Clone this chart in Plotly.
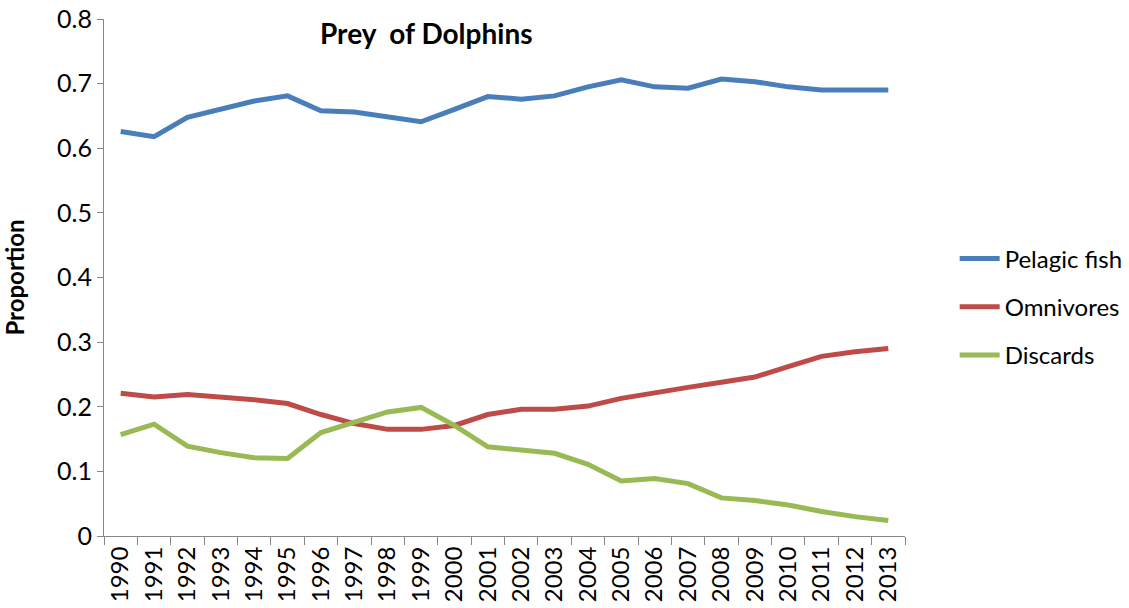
import plotly.graph_objects as go

years = [str(y) for y in range(1990, 2014)]

pelagic_fish = [0.626, 0.618, 0.648, 0.661, 0.673, 0.681, 0.658, 0.656, 0.649, 0.641,
                0.660, 0.680, 0.676, 0.681, 0.695, 0.706, 0.695, 0.693, 0.707, 0.703,
                0.695, 0.690, 0.690, 0.690]
omnivores = [0.221, 0.215, 0.219, 0.215, 0.211, 0.205, 0.188, 0.174, 0.165, 0.165,
             0.171, 0.188, 0.196, 0.196, 0.201, 0.213, 0.222, 0.230, 0.238, 0.246,
             0.262, 0.278, 0.285, 0.290]
discards = [0.157, 0.173, 0.139, 0.129, 0.121, 0.120, 0.160, 0.177, 0.192, 0.199,
            0.171, 0.138, 0.133, 0.128, 0.111, 0.085, 0.089, 0.081, 0.059, 0.055,
            0.048, 0.038, 0.030, 0.024]

y_ticks = [0, 0.1, 0.2, 0.3, 0.4, 0.5, 0.6, 0.7, 0.8]
y_tick_text = ["0", "0.1", "0.2", "0.3", "0.4", "0.5", "0.6", "0.7", "0.8"]

series = [
    ("Pelagic fish", pelagic_fish, "#4a7ebb"),
    ("Omnivores", omnivores, "#be4b48"),
    ("Discards", discards, "#98b954"),
]

font_family = "Lato, 'Open Sans', sans-serif"

fig = go.Figure()
for name, values, color in series:
    fig.add_trace(go.Scatter(
        x=years, y=values, name=name, mode="lines", legendgroup=name,
        line=dict(color=color, width=5),
    ))

fig.update_layout(
    width=1129, height=608,
    margin=dict(l=104, r=224, t=19, b=72, autoexpand=False),
    paper_bgcolor="white", plot_bgcolor="white",
    font=dict(family=font_family, color="black"),
    showlegend=True,
    legend=dict(
        x=1.062, y=0.443, xanchor="left", yanchor="middle",
        font=dict(size=24, family=font_family),
        itemwidth=40, tracegroupgap=14, traceorder="grouped",
        bgcolor="rgba(0,0,0,0)",
    ),
    annotations=[dict(
        text="<b>Prey&nbsp;&nbsp;of Dolphins</b>", x=0.402, y=1.0, xref="paper", yref="paper",
        xanchor="center", yanchor="top", yshift=5, showarrow=False,
        font=dict(size=28, family=font_family),
    )],
)

fig.update_xaxes(
    type="category", tickson="boundaries", ticks="outside", ticklen=8,
    tickcolor="#868686", showline=True, linecolor="#868686", linewidth=1,
    showgrid=False, tickangle=-90, tickfont=dict(size=24, family=font_family),
    range=[-0.5, len(years) - 0.5], automargin=False,
)
fig.update_yaxes(
    range=[0, 0.8], tickvals=y_ticks, ticktext=y_tick_text,
    ticks="outside", ticklen=6, tickcolor="#868686",
    showline=True, linecolor="#868686", linewidth=1, showgrid=False,
    zeroline=False, tickfont=dict(size=25, family=font_family), automargin=False,
    title=dict(text="<b>Proportion</b>", font=dict(size=24, family=font_family), standoff=30),
)

fig.write_html("out.html")
